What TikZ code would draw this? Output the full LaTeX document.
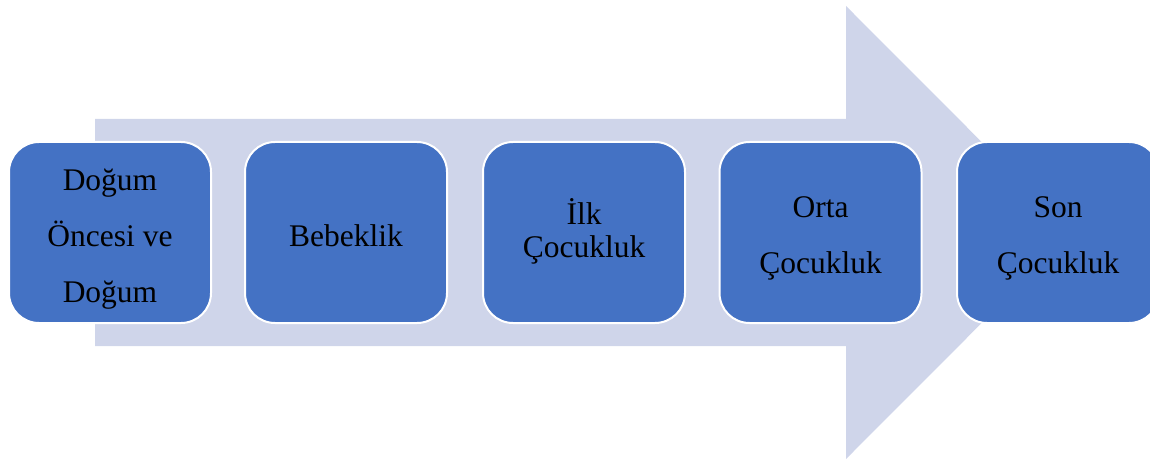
\documentclass[tikz,border=0pt]{standalone}
\usepackage{fontspec}
\setmainfont{Liberation Serif}
\definecolor{arrowfill}{HTML}{CFD5EA}
\definecolor{boxfill}{HTML}{4472C4}
\begin{document}
\begin{tikzpicture}[x=1pt,y=-1pt,
  stage/.style={draw=white,line width=2pt,fill=boxfill,rounded corners=30pt,
    minimum width=202pt,minimum height=181pt,inner sep=0pt},
  lbl/.style={anchor=base,inner sep=0pt,font=\fontsize{31.5}{36}\selectfont,text=black}]
\useasboundingbox (0,0) rectangle (1150,462);
\clip (0,0) rectangle (1150,462);
\fill[arrowfill] (95,119) -- (846,119) -- (846,6) -- (1072,232.5) -- (846,459) -- (846,346) -- (95,346) -- cycle;
\node[stage] (b1) at (110,232.5) {};
\node[stage] (b2) at (346,232.5) {};
\node[stage] (b3) at (584,232.5) {};
\node[stage] (b4) at (820.5,232.5) {};
\node[stage] (b5) at (1058,232.5) {};
\node[lbl] (t1a) at (110,190.7) {Doğum};
\node[lbl] (t1b) at (110,246.5) {Öncesi ve};
\node[lbl] (t1c) at (110,302) {Doğum};
\node[lbl] (t2) at (346,246.7) {Bebeklik};
\node[lbl] (t3a) at (584,225) {İlk};
\node[lbl] (t3b) at (584,258) {Çocukluk};
\node[lbl] (t4a) at (820.5,218) {Orta};
\node[lbl] (t4b) at (820.5,273) {Çocukluk};
\node[lbl] (t5a) at (1058,218) {Son};
\node[lbl] (t5b) at (1058,273) {Çocukluk};
\end{tikzpicture}
\end{document}
